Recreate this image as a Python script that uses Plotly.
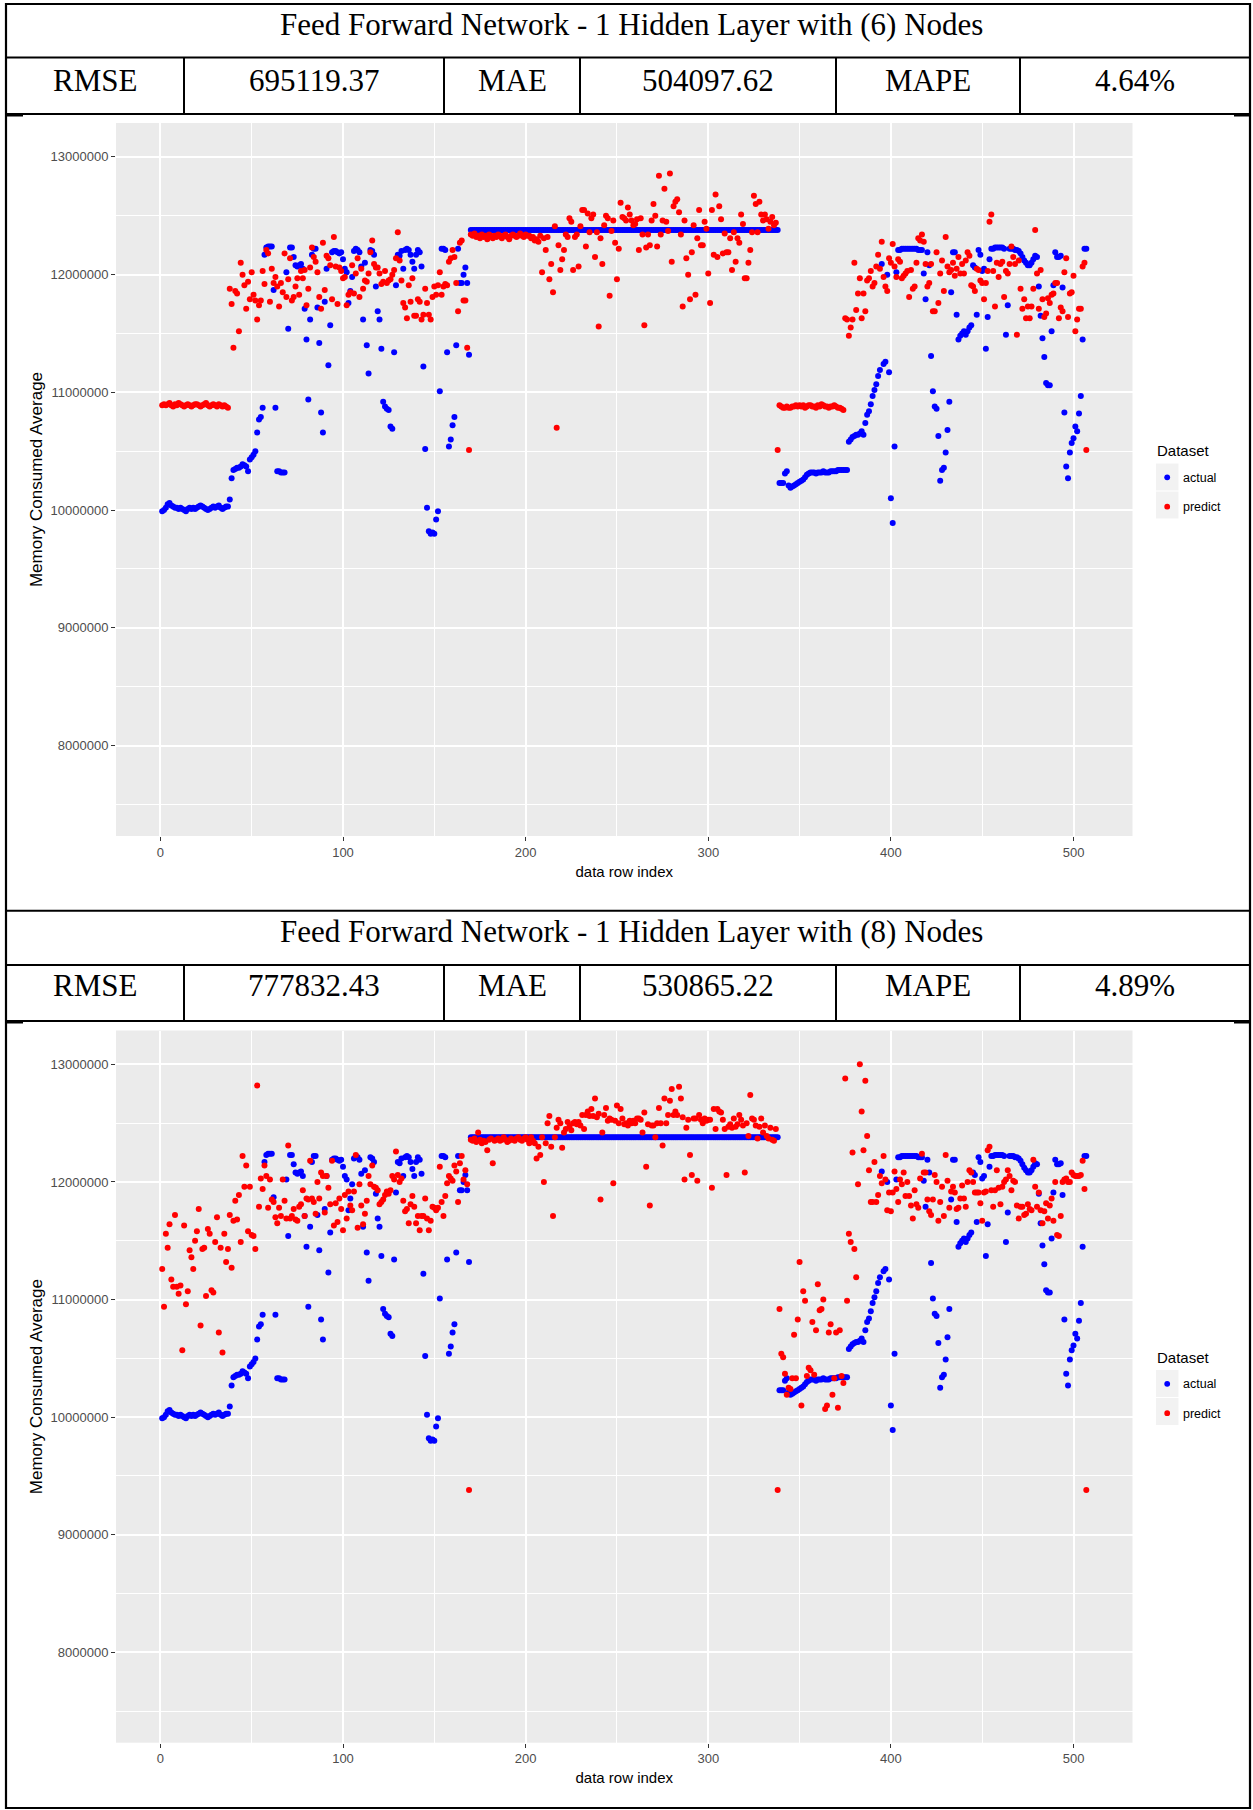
import plotly.graph_objects as go

W, H = 1253, 1810

# ---------------- data ----------------
row_index = list(range(1, 508))

# actual memory (millions) by row index
act_a = [9.99, 10.00, 10.02, 10.05, 10.06, 10.04, 10.03, 10.02, 10.02, 10.01,
         10.02, 10.01, 10.00, 9.99, 10.01, 10.02, 10.01, 10.02, 10.01, 10.02,
         10.03, 10.04, 10.03, 10.02, 10.01, 10.00, 10.01, 10.02, 10.03, 10.02,
         10.03, 10.04, 10.02, 10.01, 10.02, 10.03, 10.03]
act_b = [10.09, 10.27, 10.34, 10.35, 10.36, 10.36, 10.37, 10.39, 10.38, 10.37,
         10.33, 10.43, 10.45, 10.47, 10.50, 10.66, 10.77, 10.79, 10.87]
act_c = [12.17, 12.23, 12.24, 12.24, 12.24, 11.87, 10.87, 10.33, 10.33, 10.32, 10.32, 10.32]
act_d = [12.02, 11.54, 12.23, 12.23, 12.15, 12.08, 12.07, 12.08, 12.09, 12.05,
         11.71, 11.45, 10.94, 11.62, 12.17, 12.22, 12.22, 11.72, 11.42, 10.83,
         10.66, 11.77, 12.05, 11.23, 11.57, 12.19, 12.20, 12.20, 12.19, 12.18,
         12.19, 12.13, 12.05, 12.02, 11.76, 11.86, 11.98, 12.20, 12.22, 12.21,
         12.19, 12.07, 11.62, 12.10, 11.40, 11.16, 12.21, 12.20, 12.17, 11.90,
         11.69, 11.62, 11.37, 10.92, 10.88, 10.86, 10.85, 10.71, 10.69, 11.34,
         11.91, 12.17, 12.16, 12.20, 12.05, 12.21, 12.22, 12.21, 12.17, 12.11,
         12.05, 12.17, 12.21, 12.19, 12.07]
act_e = [11.22, 10.52, 10.02, 9.82, 9.80, 9.81, 9.80, 9.92, 9.99, 11.01,
         12.22, 12.22, 12.21, 11.34, 10.54, 10.60, 10.72, 10.79, 11.40, 12.22,
         11.93, 11.93, 12.00, 12.06, 11.93, 11.32]
act_f = [12.38, 12.38, 12.38, 12.38, 12.38, 12.38, 12.38, 12.38, 12.38, 12.38, 12.38, 12.38, 12.38,
         12.38, 12.38, 12.38, 12.38, 12.38, 12.38, 12.38, 12.38, 12.38, 12.38, 12.38, 12.38, 12.38,
         12.38, 12.38, 12.38, 12.38, 12.38, 12.38, 12.38, 12.38, 12.38, 12.38, 12.38, 12.38, 12.38,
         12.38, 12.38, 12.38, 12.38, 12.38, 12.38, 12.38, 12.38, 12.38, 12.38, 12.38, 12.38, 12.38,
         12.38, 12.38, 12.38, 12.38, 12.38, 12.38, 12.38, 12.38, 12.38, 12.38, 12.38, 12.38, 12.38,
         12.38, 12.38, 12.38, 12.38, 12.38, 12.38, 12.38, 12.38, 12.38, 12.38, 12.38, 12.38, 12.38,
         12.38, 12.38, 12.38, 12.38, 12.38, 12.38, 12.38, 12.38, 12.38, 12.38, 12.38, 12.38, 12.38,
         12.38, 12.38, 12.38, 12.38, 12.38, 12.38, 12.38, 12.38, 12.38, 12.38, 12.38, 12.38, 12.38,
         12.38, 12.38, 12.38, 12.38, 12.38, 12.38, 12.38, 12.38, 12.38, 12.38, 12.38, 12.38, 12.38,
         12.38, 12.38, 12.38, 12.38, 12.38, 12.38, 12.38, 12.38, 12.38, 12.38, 12.38, 12.38, 12.38,
         12.38, 12.38, 12.38, 12.38, 12.38, 12.38, 12.38, 12.38, 12.38, 12.38, 12.38, 12.38, 12.38,
         12.38, 12.38, 12.38, 12.38, 12.38, 12.38, 12.38, 12.38, 12.38, 12.38, 12.38, 12.38, 12.38,
         12.38, 12.38, 12.38, 12.38, 12.38, 12.38, 12.38, 12.38, 12.38, 12.38, 12.38, 12.38, 12.38]
act_g = [10.23, 10.23, 10.23, 10.31, 10.33, 10.21, 10.19, 10.20, 10.21, 10.22,
         10.23, 10.24, 10.25, 10.26, 10.28, 10.30, 10.31, 10.32, 10.32, 10.32,
         10.31, 10.32, 10.32, 10.32, 10.33, 10.32, 10.32, 10.32, 10.33, 10.33,
         10.33, 10.33, 10.34, 10.34, 10.34, 10.34, 10.34, 10.34]
act_h = [10.58, 10.60, 10.62, 10.63, 10.64, 10.64, 10.65, 10.67, 10.64]
act_i = [10.74, 10.81, 10.84, 10.90, 10.97, 11.02, 11.07, 11.14, 11.19, 12.09,
         11.24, 11.26, 12.00, 11.17, 10.10, 9.89, 10.54, 12.02]
act_j = [12.21, 12.21, 12.22, 12.22, 12.22, 12.22, 12.22, 12.22, 12.22, 12.22,
         12.22, 12.21, 12.21, 12.21]
act_k = [12.01, 11.79, 12.19, 12.08, 11.31, 11.01, 10.88, 10.86, 10.63, 10.25,
         10.34, 10.36, 10.49, 10.68, 10.92, 11.85, 12.19, 12.19, 11.66, 11.45,
         11.48, 11.50, 11.52, 11.49, 11.52, 11.55, 11.57, 12.08, 12.06, 11.66,
         12.21, 12.17, 12.03, 12.05, 11.37, 11.64, 12.13]
act_l = [12.22, 12.22, 12.23, 12.23, 12.23, 12.23, 12.23, 12.22, 11.49, 11.74,
         12.22, 12.22, 12.22, 12.21, 12.21, 12.20]
act_m = [12.18, 12.15, 12.12, 12.10, 12.08, 12.08, 12.10, 12.13, 12.16, 12.15,
         11.90, 11.65, 11.46, 11.30, 11.08, 11.06, 11.06, 11.52, 11.91, 12.19,
         12.15, 12.15, 12.16, 11.89, 10.83, 10.37, 10.27, 10.49, 10.57, 10.61,
         10.71, 10.67, 10.82, 10.97, 11.45, 12.22, 12.22]
actual_parts = [act_a, act_b, act_c, act_d, act_e, act_f, act_g, act_h, act_i, act_j, act_k, act_l, act_m]
actual_mem_m = [v for part in actual_parts for v in part]

# predictions, 6 hidden nodes (millions)
p6_a = [10.89, 10.90, 10.89, 10.90, 10.91, 10.89, 10.88, 10.90, 10.89, 10.91,
        10.90, 10.89, 10.88, 10.89, 10.90, 10.89, 10.88, 10.89, 10.90, 10.90,
        10.89, 10.88, 10.89, 10.90, 10.91, 10.89, 10.88, 10.89, 10.90, 10.89,
        10.88, 10.90, 10.89, 10.88, 10.89, 10.88, 10.87]
p6_b = [11.88, 11.75, 11.38, 11.86, 11.84, 11.52, 12.10, 12.00, 11.91, 11.71,
        11.94, 11.79, 12.02, 11.83, 11.78, 11.62, 11.74, 11.78, 12.03, 11.92,
        12.21, 12.18, 11.77, 12.05, 11.93, 11.98, 11.90, 11.73, 11.93, 11.85,
        12.18, 11.81, 11.96, 12.14, 11.78, 11.81, 11.90, 11.97, 11.83, 12.03,
        11.97, 12.04, 11.74, 11.88, 12.06, 12.23, 12.15, 12.11, 12.02, 11.81,
        11.71, 12.27, 11.87, 12.16, 12.14, 12.08, 11.79, 12.32, 12.07, 11.75,
        12.06, 12.03, 11.97, 11.98, 11.74, 11.83, 11.85, 12.08, 11.84, 12.01,
        12.14, 11.81, 12.05, 11.88, 11.95, 11.94, 12.01, 12.19, 12.29, 12.09,
        12.06, 12.06, 12.01, 11.92, 11.94, 12.03, 11.93, 11.95, 11.96, 12.00,
        12.04, 12.14, 12.36, 12.12, 11.95]
p6_c = [11.76, 11.72, 11.63, 11.91, 11.77, 11.97, 11.65, 11.65, 11.79, 11.77,
        11.62, 11.66, 11.88, 11.76, 11.66, 11.62, 11.81, 11.90, 11.83, 11.91,
        12.02, 11.83, 11.90, 11.92, 11.91, 12.11, 12.14, 12.21, 12.15, 11.93,
        11.69, 12.27, 12.29, 11.78, 11.78, 11.38, 10.51]
p6_d = [12.34, 12.33, 12.35, 12.32, 12.33, 12.31, 12.34, 12.32, 12.33, 12.30,
        12.34, 12.33, 12.31, 12.33, 12.32, 12.34, 12.33, 12.31, 12.33, 12.34,
        12.32, 12.30, 12.33, 12.34, 12.33, 12.32, 12.33, 12.35, 12.33, 12.32,
        12.34, 12.33, 12.33, 12.31, 12.32, 12.29, 12.30, 12.28, 12.33]
p6_e = [12.02, 12.31, 12.21, 12.32, 11.96, 12.09, 11.85, 12.41, 10.70, 12.25,
        12.04, 12.13, 12.21, 12.34, 12.32, 12.48, 12.45, 12.04, 12.32, 12.34,
        12.07, 12.41, 12.55, 12.55, 12.24, 12.52, 12.36, 12.48, 12.51, 12.15,
        12.36,
        11.56, 12.31, 12.09, 12.42, 12.50, 12.48, 11.82, 12.37, 12.46, 12.27,
        11.96, 12.22, 12.61, 12.49, 12.48, 12.46, 12.57, 12.51, 12.46, 12.42,
        12.43, 12.47, 12.21, 12.48, 12.34, 11.57, 12.23, 12.34, 12.25, 12.46,
        12.60, 12.50, 12.24, 12.84, 12.34, 12.46, 12.73, 12.45,
        12.37,
        12.86, 12.11, 12.58, 12.62, 12.64, 12.53, 12.34, 11.73, 12.46, 12.14,
        12.00, 11.79, 12.19, 12.42, 11.83, 12.31, 12.55, 12.25, 12.25, 12.45,
        12.39, 12.01, 11.76, 12.55, 12.17, 12.68, 12.15, 12.58, 12.47, 12.18,
        12.35,
        12.19, 12.19, 12.31, 12.04, 12.36, 12.11, 12.31, 12.27, 12.51, 12.43,
        11.97, 11.97, 12.10, 12.21,
        12.36,
        12.67, 12.60, 12.36, 12.62, 12.51, 12.46, 12.51, 12.47, 12.39, 12.45,
        12.49, 12.42, 12.44, 10.51]
p6_f = [10.89, 10.88, 10.87, 10.87, 10.88, 10.87, 10.87, 10.88, 10.88, 10.89,
        10.88, 10.89, 10.88, 10.89, 10.87, 10.88, 10.89, 10.89, 10.88, 10.88,
        10.87, 10.89, 10.88, 10.90, 10.89, 10.88, 10.88, 10.87, 10.88, 10.88,
        10.89, 10.88, 10.87, 10.87, 10.86, 10.85]
p6_g = [11.63, 11.62, 11.48, 11.55, 11.62, 12.10, 11.70, 11.84, 11.97,
        11.63, 11.84, 11.69, 11.95, 11.97, 12.03, 11.90, 11.93, 12.07, 12.17,
        12.05, 12.28, 11.98, 11.90, 11.86, 12.14, 12.10, 12.26, 12.07, 11.98,
        12.13, 12.11, 11.97, 11.99, 12.01, 12.03, 11.81, 12.04, 11.88, 11.90,
        12.10, 12.31, 12.29, 12.34, 12.28, 12.09, 11.90, 11.93, 12.09, 11.69,
        11.69, 12.19, 11.76, 12.01, 12.12, 11.86, 12.32, 12.07, 12.02, 12.04,
        12.10, 11.99, 12.05, 12.15, 12.01, 12.09, 12.01, 12.12, 12.19, 12.16,
        11.91, 11.90, 11.86, 12.05, 12.04, 11.95, 11.93, 11.79, 11.93, 12.03,
        12.45, 12.51, 12.03, 11.73, 12.10, 11.98, 12.09, 12.11, 11.81, 12.03,
        12.01, 12.09, 12.24, 12.15, 12.09, 11.49, 12.12, 11.88, 11.71, 11.79,
        11.63, 11.73, 11.63, 11.73, 11.88, 12.38, 12.01, 11.71, 12.04, 11.79,
        11.64, 11.67, 11.80, 11.76, 11.83, 11.84, 11.93, 11.93, 11.63, 11.72,
        11.69, 12.02, 12.14, 11.64, 11.84, 11.85, 11.99, 11.52, 11.62,
        11.71, 11.71, 12.07, 12.10, 10.51]
p6_parts = [p6_a, p6_b, p6_c, p6_d, p6_e, p6_f, p6_g]
predict6_mem_m = [v for part in p6_parts for v in part]

# predictions, 8 hidden nodes (millions)
p8_a = [11.26, 10.94, 11.56, 11.44, 11.64, 11.17, 11.11, 11.72, 11.11, 11.05,
        11.12, 10.57, 11.63, 10.96, 11.07, 11.42, 11.36, 11.26, 11.50, 11.58,
        11.77, 10.78, 11.43, 11.44, 11.03, 11.60, 11.56, 11.08, 11.06, 11.49,
        11.70, 10.72, 11.44, 10.55, 11.56, 11.32, 11.43]
p8_b = [11.72, 11.27, 11.67, 11.84, 11.68, 11.89, 11.49, 12.22, 11.96, 12.14,
        11.58, 11.96, 11.55, 11.54, 11.43, 12.82, 11.79, 12.03, 11.94, 12.14,
        12.05, 11.78, 12.02, 11.85, 11.83, 11.70, 11.65, 11.78, 11.71, 12.02,
        11.84, 11.69, 12.31, 11.69, 11.71, 11.77, 11.68, 11.67, 11.79, 11.81,
        11.93, 11.71, 11.86, 11.85, 12.18, 11.86, 11.83, 11.73, 12.00, 11.86,
        12.08, 12.05, 11.74, 12.05, 11.95, 11.81, 12.18, 11.63, 11.82, 11.66,
        11.86, 11.77, 11.59, 11.89, 11.69, 11.92, 11.80, 11.76, 11.92, 12.23,
        11.61, 11.98, 11.80, 11.64, 11.73, 11.84, 12.05, 11.98, 12.14, 11.96,
        11.95, 11.93, 11.81, 11.83, 11.85, 11.89, 11.92, 11.90, 11.93, 12.05,
        12.02, 12.26, 12.06, 12.00, 12.03]
p8_c = [11.84, 11.75, 11.77, 11.65, 11.81, 11.88, 11.79, 11.65, 11.71, 11.59,
        11.71, 11.71, 11.86, 11.69, 11.59, 11.67, 11.79, 11.78, 11.76, 11.78,
        12.13, 11.83, 11.71, 11.88, 11.99, 12.05, 12.03, 12.01, 12.14, 12.09,
        11.83, 12.16, 12.22, 12.02, 12.10, 11.98, 9.38]
p8_d = [12.36, 12.35, 12.37, 12.34, 12.42, 12.36, 12.33, 12.35, 12.34, 12.27,
        12.36, 12.37, 12.16, 12.35, 12.36, 12.37, 12.35, 12.36, 12.38, 12.36,
        12.34, 12.35, 12.37, 12.36, 12.35, 12.37, 12.38, 12.36, 12.35, 12.37,
        12.38, 12.36, 12.33, 12.38, 12.35]
p8_e = [12.33, 12.20, 12.30, 12.23, 12.38, 12.00, 12.33, 12.50, 12.56, 12.30,
        11.71, 12.38, 12.46, 12.53, 12.50, 12.29, 12.42, 12.45, 12.51, 12.47,
        12.44, 12.50, 12.51, 12.49, 12.51, 12.48, 12.57, 12.45, 12.57, 12.60,
        12.56, 12.62, 12.56, 12.71, 12.55, 12.58, 11.85, 12.42, 12.57, 12.63,
        12.52, 12.54, 12.53, 11.99, 12.52, 12.65, 12.50, 12.62, 12.54, 12.49,
        12.50, 12.48, 12.52, 12.50, 12.52, 12.50, 12.54, 12.54, 12.53, 12.42,
        12.59, 12.13, 12.49, 11.80, 12.48, 12.48, 12.38, 12.50, 12.63, 12.50,
        12.31, 12.71, 12.50, 12.57, 12.69, 12.79, 12.57, 12.60, 12.57, 12.81,
        12.71, 12.55, 12.02, 12.46, 12.53, 12.23, 12.06, 12.54, 12.54, 12.01,
        12.57, 12.53, 12.50, 12.54, 12.52, 12.53, 12.53, 11.95, 12.62, 12.45,
        12.62, 12.60, 12.59, 12.53, 12.45, 12.06, 12.47, 12.49, 12.46, 12.54,
        12.47, 12.49, 12.57, 12.53, 12.48, 12.08, 12.50, 12.39, 12.74, 12.54,
        12.53, 12.48, 12.37, 12.47, 12.54, 12.42, 12.48, 12.39, 12.37, 12.46,
        12.36, 12.35, 12.45, 9.38]
p8_f = [10.92, 10.54, 10.51, 10.37, 10.19, 10.25, 10.24, 10.33, 10.70, 10.33,
        10.83, 11.32, 10.10, 11.07, 10.99, 10.35, 10.42, 10.40, 10.81, 10.36,
        10.74, 11.13, 10.91, 10.92, 11.00, 10.07, 10.10, 10.72, 10.79, 10.19,
        10.33, 10.72, 10.08, 10.74, 10.35, 10.29, 12.88, 10.99, 11.56, 11.49,
        12.25, 11.43, 11.19, 11.98, 13.00, 12.60, 12.27, 12.86, 12.39, 12.10,
        11.83, 11.83, 12.17, 11.83, 11.89, 12.05, 11.99, 12.22, 12.02, 11.76,
        11.91, 11.75, 11.91, 12.09, 11.94, 11.83, 12.02, 11.98, 12.08, 11.88,
        12.00, 11.88, 11.80, 11.69, 11.93, 11.81, 11.78, 12.03, 12.24, 12.08,
        12.08, 11.85, 11.75, 11.72, 11.85, 12.06, 12.00, 11.67, 11.83, 11.96,
        11.71, 12.23, 12.01, 11.78, 11.92, 11.96, 11.91, 11.77, 11.78, 11.86,
        11.97, 11.86, 11.79, 12.00, 12.10, 12.08, 12.00, 11.91, 11.91, 11.91,
        11.82, 11.67, 11.91, 11.92, 12.27, 12.30, 11.93, 11.79, 11.93, 12.10,
        11.95, 11.81, 11.96, 12.00, 12.02, 12.10, 12.05, 11.93, 12.01, 12.00,
        11.80, 11.69, 11.79, 11.79, 11.72, 11.73, 11.81, 11.77, 11.76, 12.19,
        11.96, 11.79, 11.91, 11.76, 11.65, 11.75, 11.82, 11.69, 11.80, 11.86,
        11.67, 12.00, 11.55, 11.54, 11.71, 12.00, 12.02, 12.03, 12.00, 12.00,
        12.08, 12.06, 12.05, 12.05, 12.05, 12.06, 12.18, 11.94, 9.38]
p8_parts = [p8_a, p8_b, p8_c, p8_d, p8_e, p8_f]
predict8_mem_m = [v for part in p8_parts for v in part]

assert len(actual_mem_m) == 507, ("actual", [len(p) for p in actual_parts])
assert len(predict6_mem_m) == 507, ("p6", [len(p) for p in p6_parts])
assert len(predict8_mem_m) == 507, ("p8", [len(p) for p in p8_parts])

panel_titles = ["Feed Forward Network - 1 Hidden Layer with (6) Nodes",
                "Feed Forward Network - 1 Hidden Layer with (8) Nodes"]
metric_names = ["RMSE", "MAE", "MAPE"]
metric_values = [["695119.37", "504097.62", "4.64%"],
                 ["777832.43", "530865.22", "4.89%"]]
series_names = ["actual", "predict"]
series_colors = ["#0000FF", "#FF0000"]
y_ticks = [8000000, 9000000, 10000000, 11000000, 12000000, 13000000]
x_ticks = [0, 100, 200, 300, 400, 500]

# ---------------- layout helpers ----------------
def PX(x):
    return x / W

def PY(y):
    return 1 - y / H

SANS = "Liberation Sans, Arial, sans-serif"
SERIF = "Liberation Serif, Times New Roman, serif"

actual_vals = [v * 1e6 for v in actual_mem_m]
pred_sets = [[v * 1e6 for v in predict6_mem_m], [v * 1e6 for v in predict8_mem_m]]

fig = go.Figure()
for k in range(2):
    xa = "x" if k == 0 else "x2"
    ya = "y" if k == 0 else "y2"
    fig.add_trace(go.Scatter(x=row_index, y=actual_vals, mode="markers", name=series_names[0],
                             marker=dict(color=series_colors[0], size=6, line=dict(width=0)),
                             xaxis=xa, yaxis=ya, showlegend=False))
    fig.add_trace(go.Scatter(x=row_index, y=pred_sets[k], mode="markers", name=series_names[1],
                             marker=dict(color=series_colors[1], size=6, line=dict(width=0)),
                             xaxis=xa, yaxis=ya, showlegend=False))

panel_px = [(123, 836), (1030.5, 1742.7)]
x_dom = [PX(116), PX(1132.5)]

def xaxis_cfg(anchor):
    return dict(domain=x_dom, anchor=anchor, range=[-24.3, 532.3],
                tickmode="array", tickvals=x_ticks, ticktext=[str(t) for t in x_ticks],
                showgrid=True, gridcolor="white", gridwidth=1.6,
                minor=dict(dtick=50, tick0=0, showgrid=True, gridcolor="white", gridwidth=0.8),
                ticks="outside", ticklen=4, tickwidth=1.1, tickcolor="#333333",
                tickfont=dict(family=SANS, size=13, color="#4D4D4D"),
                showline=False, zeroline=False,
                title=dict(text="data row index", font=dict(family=SANS, size=15, color="black"),
                           standoff=7))

def yaxis_cfg(anchor, top, bottom):
    return dict(domain=[PY(bottom), PY(top)], anchor=anchor, range=[7232000, 13288000],
                tickmode="array", tickvals=y_ticks, ticktext=[str(t) for t in y_ticks],
                showgrid=True, gridcolor="white", gridwidth=1.6,
                minor=dict(dtick=500000, tick0=0, showgrid=True, gridcolor="white", gridwidth=0.8),
                ticks="outside", ticklen=4, tickwidth=1.1, tickcolor="#333333",
                tickfont=dict(family=SANS, size=13, color="#4D4D4D"),
                showline=False, zeroline=False,
                title=dict(text="Memory Consumed Average", font=dict(family=SANS, size=17, color="black"),
                           standoff=3))

shapes = []
annotations = []

def hline(y, x0=6, x1=1250, w=2):
    shapes.append(dict(type="line", xref="paper", yref="paper", x0=PX(x0), x1=PX(x1),
                       y0=PY(y), y1=PY(y), line=dict(color="black", width=w)))

def vline(x, y0, y1, w=2):
    shapes.append(dict(type="line", xref="paper", yref="paper", x0=PX(x), x1=PX(x),
                       y0=PY(y0), y1=PY(y1), line=dict(color="black", width=w)))

# outer border
shapes.append(dict(type="rect", xref="paper", yref="paper", x0=PX(6), x1=PX(1250),
                   y0=PY(1808), y1=PY(4), line=dict(color="black", width=2.2),
                   fillcolor="rgba(0,0,0,0)"))

sections = [dict(top=4, mid=57.5, bot=114, title_y=24.5, metric_y=80),
            dict(top=910.7, mid=965, bot=1021, title_y=931.5, metric_y=985.5)]
dividers = [184, 444, 580, 836, 1020]
cell_centers = [95, 314, 512, 708, 928, 1135]

for k, s in enumerate(sections):
    if k > 0:
        hline(s["top"])
    hline(s["mid"])
    hline(s["bot"])
    hline(s["bot"] + 1.5, 6, 23, 2)
    hline(s["bot"] + 1.5, 1234, 1250, 2)
    for xd in dividers:
        vline(xd, s["mid"], s["bot"])
    annotations.append(dict(text=panel_titles[k], xref="paper", yref="paper",
                            x=PX(631), y=PY(s["title_y"]), xanchor="center", yanchor="middle",
                            showarrow=False, font=dict(family=SERIF, size=31, color="black")))
    cells = []
    for name, val in zip(metric_names, metric_values[k]):
        cells += [name, val]
    for txt, cx in zip(cells, cell_centers):
        annotations.append(dict(text=txt, xref="paper", yref="paper",
                                x=PX(cx), y=PY(s["metric_y"]), xanchor="center", yanchor="middle",
                                showarrow=False, font=dict(family=SERIF, size=31, color="black")))

# ggplot-style legend keys for each panel
legend_offsets = [0, 906.5]
for dy in legend_offsets:
    annotations.append(dict(text="Dataset", xref="paper", yref="paper", x=PX(1155), y=PY(450.5 + dy),
                            xanchor="left", yanchor="middle", showarrow=False,
                            font=dict(family=SANS, size=15, color="black")))
    key_rows = [(463.5, 490.5, 477.3), (491.5, 518.5, 506.7)]
    for (ky0, ky1, kc), nm, col in zip(key_rows, series_names, series_colors):
        shapes.append(dict(type="rect", xref="paper", yref="paper", x0=PX(1156), x1=PX(1178.5),
                           y0=PY(ky1 + dy), y1=PY(ky0 + dy), line=dict(width=0), fillcolor="#F2F2F2"))
        r = 2.9
        shapes.append(dict(type="circle", xref="paper", yref="paper", x0=PX(1167.2 - r), x1=PX(1167.2 + r),
                           y0=PY(kc + dy + r), y1=PY(kc + dy - r), line=dict(width=0), fillcolor=col))
        annotations.append(dict(text=nm, xref="paper", yref="paper", x=PX(1181), y=PY(kc + dy + 0.5),
                                xanchor="left", yanchor="middle", showarrow=False,
                                font=dict(family=SANS, size=12.5, color="black")))

fig.update_layout(
    width=W, height=H, margin=dict(l=0, r=0, t=0, b=0, autoexpand=False),
    paper_bgcolor="white", plot_bgcolor="#EBEBEB",
    showlegend=False,
    xaxis=xaxis_cfg("y"), yaxis=yaxis_cfg("x", *panel_px[0]),
    xaxis2=xaxis_cfg("y2"), yaxis2=yaxis_cfg("x2", *panel_px[1]),
    shapes=shapes, annotations=annotations,
)

fig.write_html("out.html")
